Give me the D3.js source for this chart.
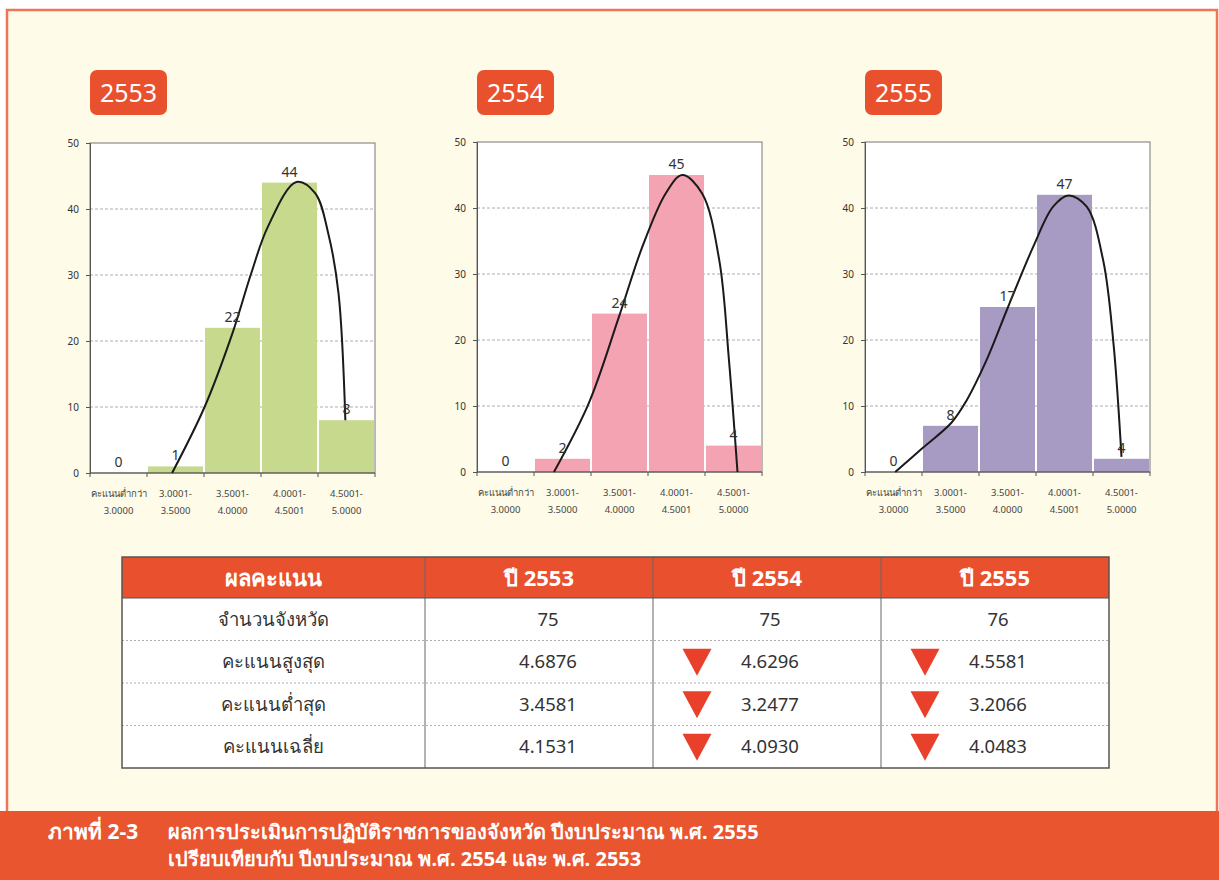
<!DOCTYPE html>
<html>
<head>
<meta charset="utf-8">
<script src="https://cdn.jsdelivr.net/npm/d3@7"></script>
<style>
  body { margin: 0; background: #ffffff; }
  svg { display: block; font-family: "Noto Sans", "DejaVu Sans", sans-serif; }
</style>
</head>
<body>
<div id="chart"></div>
<script>
// chart data
var categories = [
  ["คะแนนต่ำกว่า", "3.0000"],
  ["3.0001-", "3.5000"],
  ["3.5001-", "4.0000"],
  ["4.0001-", "4.5001"],
  ["4.5001-", "5.0000"]
];
var years = ["2553", "2554", "2555"];
var yTicks = [0, 10, 20, 30, 40, 50];

var bars2553 = [0, 1, 22, 44, 8];
var bars2554 = [0, 2, 24, 45, 4];
var bars2555 = [0, 7, 25, 42, 2];

var labels2553 = [0, 1, 22, 44, 8];
var labels2554 = [0, 2, 24, 45, 4];
var labels2555 = [0, 8, 17, 47, 4];

// trend curve: [category position, count]
var curve2553 = [[0.94, 0], [1.51, 10], [2.0, 21.2], [2.33, 30.3], [2.62, 37.3], [3.12, 44.1],
  [3.45, 42.4], [3.68, 36.3], [3.86, 27.2], [3.98, 8]];
var curve2554 = [[0.85, 0], [1.46, 10.4], [1.99, 23.5], [2.40, 34.1], [2.81, 42.2], [3.10, 45],
  [3.45, 42.2], [3.75, 32.1], [3.92, 17], [4.07, 0]];
var curve2555 = [[0.03, 0], [0.52, 3.7], [1.02, 7.5], [1.28, 10.8], [1.63, 16.9], [2.01, 25],
  [2.45, 34.1], [2.8, 40.2], [3.07, 41.9], [3.39, 40.2], [3.68, 32], [3.86, 19.4], [4.0, 2.3]];

// table data
var tableHeader = ["ผลคะแนน", "ปี 2553", "ปี 2554", "ปี 2555"];
var rowLabels = ["จำนวนจังหวัด", "คะแนนสูงสุด", "คะแนนต่ำสุด", "คะแนนเฉลี่ย"];
var col2553 = ["75", "4.6876", "3.4581", "4.1531"];
var col2554 = ["75", "4.6296", "3.2477", "4.0930"];
var col2555 = ["76", "4.5581", "3.2066", "4.0483"];
var down2553 = [false, false, false, false];
var down2554 = [false, true, true, true];
var down2555 = [false, true, true, true];

var captionLabel = "ภาพที่ 2-3";
var captionLines = [
  "ผลการประเมินการปฏิบัติราชการของจังหวัด ปีงบประมาณ พ.ศ. 2555",
  "เปรียบเทียบกับ ปีงบประมาณ พ.ศ. 2554 และ พ.ศ. 2553"
];

var svgWidth = 1219;
var svgHeight = 880;
var red = "#e8502e";

var svg = d3.select("#chart")
  .append("svg")
  .attr("width", svgWidth)
  .attr("height", svgHeight);

// page frame
svg.append("rect")
  .attr("x", 7).attr("y", 10)
  .attr("width", svgWidth - 8).attr("height", svgHeight - 10)
  .attr("fill", "#fefbe8");
svg.append("path")
  .attr("d", `M7,${svgHeight} V10 H${svgWidth - 2} V${svgHeight}`)
  .attr("fill", "none")
  .attr("stroke", "#f07457")
  .attr("stroke-width", 2.5);

// histograms
var panels = [
  { year: years[0], bars: bars2553, labels: labels2553, curve: curve2553, color: "#c6d98d", left: 90, top: 143 },
  { year: years[1], bars: bars2554, labels: labels2554, curve: curve2554, color: "#f4a3b2", left: 477, top: 142 },
  { year: years[2], bars: bars2555, labels: labels2555, curve: curve2555, color: "#a89bc3", left: 865, top: 142 }
];
var width = 285;
var height = 330;

panels.forEach(function(p) {
  // year badge
  var badge = svg.append("g").attr("transform", `translate(${p.left}, 70)`);
  badge.append("rect")
    .attr("width", 77).attr("height", 45)
    .attr("rx", 7)
    .attr("fill", red);
  badge.append("text")
    .attr("x", 38.5).attr("y", 31.5)
    .attr("text-anchor", "middle")
    .attr("fill", "white")
    .attr("font-size", "25px")
    .text(p.year);

  var g = svg.append("g").attr("transform", `translate(${p.left}, ${p.top})`);

  var x = d3.scaleBand()
    .domain(d3.range(categories.length))
    .range([0, width]);
  var xPos = d3.scaleLinear()
    .domain([-0.5, categories.length - 0.5])
    .range([0, width]);
  var y = d3.scaleLinear()
    .domain([0, 50])
    .range([height, 0]);

  g.append("rect")
    .attr("width", width).attr("height", height)
    .attr("fill", "white");

  // dashed gridlines
  g.selectAll(".grid")
    .data(yTicks.filter(d => d > 0 && d < 50))
    .enter()
    .append("line")
    .attr("x1", 0).attr("x2", width)
    .attr("y1", d => y(d)).attr("y2", d => y(d))
    .attr("stroke", "#9a9a9a")
    .attr("stroke-width", 0.8)
    .attr("stroke-dasharray", "3,2");

  // bars
  g.selectAll(".bar")
    .data(p.bars)
    .enter()
    .append("rect")
    .attr("x", (d, i) => x(i) + 1)
    .attr("width", x.bandwidth() - 2)
    .attr("y", d => y(d))
    .attr("height", d => height - y(d))
    .attr("fill", p.color);

  // plot border
  g.append("rect")
    .attr("width", width).attr("height", height)
    .attr("fill", "none")
    .attr("stroke", "#777")
    .attr("stroke-width", 1);

  // y axis
  var leftAxis = d3.axisLeft(y).tickValues(yTicks).tickSize(4).tickPadding(7);
  var ya = g.append("g").call(leftAxis);
  ya.select(".domain").attr("stroke", "#555");
  ya.selectAll("line").attr("stroke", "#555");
  ya.selectAll("text")
    .attr("font-size", "10px")
    .attr("fill", "#333")
    .attr("font-family", "\"Noto Sans\", sans-serif");

  // x axis ticks on band edges
  g.selectAll(".xtick")
    .data(d3.range(categories.length + 1))
    .enter()
    .append("line")
    .attr("x1", d => xPos(d - 0.5)).attr("x2", d => xPos(d - 0.5))
    .attr("y1", height).attr("y2", height + 4)
    .attr("stroke", "#555");
  g.append("line")
    .attr("x1", 0).attr("x2", width)
    .attr("y1", height).attr("y2", height)
    .attr("stroke", "#555")
    .attr("stroke-width", 1.2);

  // category labels
  var xl = g.selectAll(".xlab")
    .data(categories)
    .enter()
    .append("text")
    .attr("text-anchor", "middle")
    .attr("font-size", "9.5px")
    .attr("fill", "#444");
  xl.append("tspan")
    .attr("x", (d, i) => x(i) + x.bandwidth() / 2)
    .attr("y", height + 24)
    .text(d => d[0]);
  xl.append("tspan")
    .attr("x", (d, i) => x(i) + x.bandwidth() / 2)
    .attr("y", height + 41)
    .text(d => d[1]);

  // trend curve
  var line = d3.line()
    .x(d => xPos(d[0]))
    .y(d => y(d[1]))
    .curve(d3.curveCatmullRom.alpha(0.5));
  g.append("path")
    .datum(p.curve)
    .attr("d", line)
    .attr("fill", "none")
    .attr("stroke", "#1a1a1a")
    .attr("stroke-width", 2);

  // value labels
  g.selectAll(".val")
    .data(p.labels)
    .enter()
    .append("text")
    .attr("x", (d, i) => x(i) + x.bandwidth() / 2)
    .attr("y", (d, i) => y(p.bars[i]) - 6)
    .attr("text-anchor", "middle")
    .attr("font-size", "14px")
    .attr("fill", "#333")
    .text(d => d);
});

// summary table
var tLeft = 122, tRight = 1109, tTop = 557, headH = 41, rowH = 42.5;
var colEdges = [tLeft, 425, 653, 881, tRight];
var columns = [col2553, col2554, col2555];
var downs = [down2553, down2554, down2555];
var valueShift = [9, 3, 3];
var tBottom = tTop + headH + rowH * rowLabels.length;

var table = svg.append("g");
table.append("rect")
  .attr("x", tLeft).attr("y", tTop)
  .attr("width", tRight - tLeft).attr("height", tBottom - tTop)
  .attr("fill", "white");
table.append("rect")
  .attr("x", tLeft).attr("y", tTop)
  .attr("width", tRight - tLeft).attr("height", headH)
  .attr("fill", red);

// row separators
table.selectAll(".rowline")
  .data(d3.range(1, rowLabels.length))
  .enter()
  .append("line")
  .attr("x1", tLeft).attr("x2", tRight)
  .attr("y1", d => tTop + headH + rowH * d)
  .attr("y2", d => tTop + headH + rowH * d)
  .attr("stroke", "#999")
  .attr("stroke-width", 0.8)
  .attr("stroke-dasharray", "2,2");

table.selectAll(".colline")
  .data(colEdges.slice(1, 4))
  .enter()
  .append("line")
  .attr("x1", d => d).attr("x2", d => d)
  .attr("y1", tTop).attr("y2", tBottom)
  .attr("stroke", "#666")
  .attr("stroke-width", 1);

table.append("line")
  .attr("x1", tLeft).attr("x2", tRight)
  .attr("y1", tTop + headH).attr("y2", tTop + headH)
  .attr("stroke", "#555");
table.append("rect")
  .attr("x", tLeft).attr("y", tTop)
  .attr("width", tRight - tLeft).attr("height", tBottom - tTop)
  .attr("fill", "none")
  .attr("stroke", "#555")
  .attr("stroke-width", 1.5);

// header text
table.selectAll(".head")
  .data(tableHeader)
  .enter()
  .append("text")
  .attr("x", (d, i) => (colEdges[i] + colEdges[i + 1]) / 2)
  .attr("y", tTop + headH / 2 + 8)
  .attr("text-anchor", "middle")
  .attr("fill", "white")
  .attr("font-size", "22px")
  .attr("font-weight", "bold")
  .text(d => d);

// row labels
table.selectAll(".rlab")
  .data(rowLabels)
  .enter()
  .append("text")
  .attr("x", (colEdges[0] + colEdges[1]) / 2)
  .attr("y", (d, i) => tTop + headH + rowH * i + rowH / 2 + 6.5)
  .attr("text-anchor", "middle")
  .attr("fill", "#333")
  .attr("font-size", "18.5px")
  .text(d => d);

// value cells with decrease markers
columns.forEach(function(col, c) {
  var cx = (colEdges[c + 1] + colEdges[c + 2]) / 2 + valueShift[c];
  table.selectAll(".cell" + c)
    .data(col)
    .enter()
    .append("text")
    .attr("x", cx)
    .attr("y", (d, i) => tTop + headH + rowH * i + rowH / 2 + 6.5)
    .attr("text-anchor", "middle")
    .attr("fill", "#333")
    .attr("font-size", "18.5px")
    .text(d => d);

  table.selectAll(".tri" + c)
    .data(downs[c].map((d, i) => ({ down: d, i: i })).filter(d => d.down))
    .enter()
    .append("path")
    .attr("d", d => {
      var tx = colEdges[c + 1] + 44;
      var ty = tTop + headH + rowH * d.i + rowH / 2;
      return `M${tx - 14.5},${ty - 13} H${tx + 14.5} L${tx},${ty + 14} Z`;
    })
    .attr("fill", "#e8402a");
});

// caption band
svg.append("rect")
  .attr("x", 0).attr("y", 811)
  .attr("width", svgWidth).attr("height", svgHeight - 811)
  .attr("fill", "#e9552f");
svg.append("text")
  .attr("x", 48).attr("y", 839)
  .attr("fill", "white")
  .attr("font-size", "21px")
  .attr("font-weight", "bold")
  .text(captionLabel);
svg.selectAll(".cap")
  .data(captionLines)
  .enter()
  .append("text")
  .attr("x", 168)
  .attr("y", (d, i) => 839 + i * 27)
  .attr("fill", "white")
  .attr("font-size", "20px")
  .attr("font-weight", "bold")
  .text(d => d);
</script>
</body>
</html>
